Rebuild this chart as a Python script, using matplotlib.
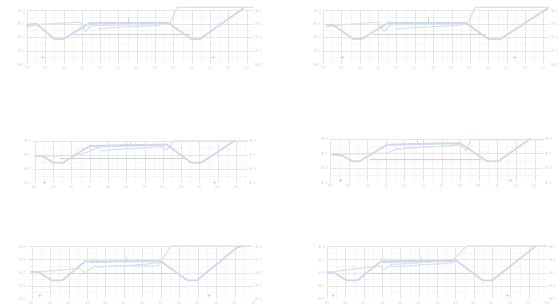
import matplotlib.pyplot as plt
from matplotlib.ticker import MultipleLocator

# ---- data (in y-tick units) ----
X13_LABELS = ["0.0", "0.5", "1.0", "1.5", "2.0", "2.5", "3.0", "3.5", "4.0", "4.5", "5.0", "5.5", "6.0"]
X12_LABELS = X13_LABELS[:12]
Y5_LABELS = ["80.0", "82.5", "85.0", "87.5", "90.0"]
Y4_LABELS = ["82.5", "85.0", "87.5", "90.0"]

P1_LAV_X = [0, 0.5, 1.5, 2.0, 3.45, 7.7, 9.0, 9.45, 11.8]
P1_LAV_Y = [2.9, 3.0, 1.85, 1.85, 3.05, 3.05, 1.85, 1.85, 4.1]
P1_GRN_X = [0, 0.8, 2.9, 3.2, 3.5, 7.8, 8.2, 12.35]
P1_GRN_Y = [2.75, 2.95, 3.1, 2.4, 2.85, 2.95, 4.2, 4.2]
P1_GRAY_X = [2.5, 8.9]
P1_GRAY_Y = [2.2, 2.2]
P1_C1_X = [3.5, 4.5, 5.5, 6.5, 7.3, 7.7]
P1_C1_Y = [2.95, 3.0, 3.05, 3.0, 3.05, 3.0]
P1_C2_X = [3.9, 4.8, 5.6, 6.4, 7.1, 7.6]
P1_C2_Y = [2.6, 2.7, 2.75, 2.8, 2.85, 2.95]
P1_SPIKE = [5.5, 3.05, 3.5]
P1_DOTS_X = [0.82, 10.15]
P1_DOTS_Y = [0.5, 0.5]

P2_LAV_X = [0.2, 0.55, 1.65, 2.1, 3.55, 7.75, 9.0, 9.65, 12.2]
P2_LAV_Y = [2.9, 2.9, 1.85, 1.85, 3.05, 3.05, 1.85, 1.85, 4.1]
P2_GRN_X = [0.2, 1.0, 3.0, 3.3, 3.7, 7.85, 8.3, 12.3]
P2_GRN_Y = [2.75, 2.9, 3.1, 2.4, 2.9, 3.0, 4.2, 4.2]
P2_GRAY_X = [2.7, 8.8]
P2_GRAY_Y = [2.2, 2.2]
P2_C1_X = [3.6, 4.6, 5.6, 6.6, 7.4, 7.8]
P2_C1_Y = [2.95, 3.0, 3.05, 3.0, 3.05, 3.0]
P2_C2_X = [4.0, 4.9, 5.8, 6.6, 7.3, 7.7]
P2_C2_Y = [2.6, 2.7, 2.75, 2.8, 2.85, 2.95]
P2_SPIKE = [5.7, 3.05, 3.5]
P2_DOTS_X = [1.05, 10.4]
P2_DOTS_Y = [0.5, 0.5]

P3_LAV_X = [0.1, 0.45, 1.0, 1.55, 3.0, 7.2, 8.55, 9.1, 10.9]
P3_LAV_Y = [1.95, 1.9, 1.45, 1.45, 2.65, 2.75, 1.45, 1.45, 3.0]
P3_GRN_X = [0.1, 2.5, 3.6, 6.9, 7.2, 7.6, 11.6]
P3_GRN_Y = [1.9, 2.0, 2.6, 2.7, 2.35, 3.0, 3.0]
P3_GRAY_X = [1.4, 8.2]
P3_GRAY_Y = [1.8, 1.8]
P3_C1_X = [3.2, 4.2, 5.2, 6.2, 7.0]
P3_C1_Y = [2.6, 2.65, 2.75, 2.7, 2.75]
P3_C2_X = [3.6, 4.5, 5.4, 6.3, 6.9]
P3_C2_Y = [2.3, 2.4, 2.45, 2.55, 2.6]
P3_SPIKE = [5.2, 2.7, 2.95]
P3_DOTS_X = [0.5, 9.8]
P3_DOTS_Y = [0.1, 0.1]

P4_LAV_X = [0.15, 0.65, 1.2, 1.6, 3.05, 7.0, 8.45, 9.05, 10.75]
P4_LAV_Y = [1.9, 1.85, 1.45, 1.45, 2.6, 2.7, 1.45, 1.45, 3.0]
P4_GRN_X = [0.15, 3.0, 3.6, 6.6, 7.0, 7.3, 7.6, 11.45]
P4_GRN_Y = [1.95, 2.0, 2.3, 2.55, 2.6, 2.2, 2.95, 2.95]
P4_GRAY_X = [2.15, 8.05]
P4_GRAY_Y = [1.6, 1.6]
P4_C1_X = [3.3, 4.3, 5.3, 6.3, 7.0]
P4_C1_Y = [2.6, 2.65, 2.7, 2.7, 2.7]
P4_C2_X = [3.5, 4.4, 5.3, 6.2, 6.9]
P4_C2_Y = [2.3, 2.4, 2.45, 2.5, 2.6]
P4_SPIKE = [4.65, 2.7, 3.0]
P4_DOTS_X = [0.55, 9.65]
P4_DOTS_Y = [0.15, 0.15]

P5_LAV_X = [0, 0.35, 1.1, 1.65, 2.9, 7.0, 8.45, 8.95, 11.1, 11.3]
P5_LAV_Y = [2.05, 2.05, 1.4, 1.4, 2.85, 2.85, 1.4, 1.4, 3.85, 3.95]
P5_GRN_X = [0, 2.6, 2.9, 3.4, 6.85, 7.55, 11.8]
P5_GRN_Y = [2.0, 2.3, 2.0, 2.45, 2.5, 4.0, 4.0]
P5_GRAY_X = [2.15, 7.9]
P5_GRAY_Y = [1.95, 1.95]
P5_C1_X = [3.2, 4.2, 5.1, 6.0, 7.0]
P5_C1_Y = [2.75, 2.8, 2.85, 2.85, 2.85]
P5_C2_X = [3.6, 4.5, 5.4, 6.3, 6.9]
P5_C2_Y = [2.4, 2.5, 2.55, 2.65, 2.75]
P5_SPIKE = [5.1, 2.85, 3.2]
P5_DOTS_X = [0.4, 9.6]
P5_DOTS_Y = [0.3, 0.3]

P6_LAV_X = [0, 0.35, 1.1, 1.65, 2.95, 7.05, 8.5, 9.0, 11.35]
P6_LAV_Y = [2.0, 2.0, 1.4, 1.4, 2.85, 2.9, 1.4, 1.4, 3.95]
P6_GRN_X = [0, 2.85, 3.1, 3.5, 6.85, 7.6, 11.95]
P6_GRN_Y = [2.0, 2.5, 2.2, 2.6, 2.9, 4.0, 4.0]
P6_GRAY_X = [2.3, 7.75]
P6_GRAY_Y = [1.95, 1.95]
P6_C1_X = [3.1, 4.1, 5.1, 6.1, 7.0]
P6_C1_Y = [2.75, 2.8, 2.85, 2.85, 2.9]
P6_C2_X = [3.5, 4.4, 5.3, 6.2, 6.9]
P6_C2_Y = [2.45, 2.5, 2.6, 2.65, 2.75]
P6_SPIKE = [5.15, 2.85, 3.2]
P6_DOTS_X = [0.3, 9.8]
P6_DOTS_Y = [0.3, 0.3]

# ---- layout: pixel boxes (left, top, right, bottom) and x ranges ----
W, H = 560, 305
BOXES = [(27, 10, 253, 64), (323, 10, 549, 64),
         (33, 141, 247, 183), (330, 139, 543, 182),
         (28, 246, 253, 299), (327, 246, 547, 299)]
XLIMS = [(0, 12.35), (0, 12.3), (-0.1, 11.6), (0, 11.45), (-0.2, 12.0), (0, 11.95)]

LAV = "#d3d5f1"
GRN = "#d9eadc"
GRAY = "#d3d3d3"
CLU = "#d4dbec"
TXT = "#d2d2d2"


def draw_panel(ax, xlim, ylabels, xlabels, lav, grn, gray, c1, c2, spike, dots):
    n = len(ylabels) - 1
    ax.set_xlim(*xlim)
    ax.set_ylim(0, n)
    ax.set_xticks(range(len(xlabels)))
    ax.set_xticklabels(xlabels)
    ax.set_yticks(range(n + 1))
    ax.set_yticklabels(ylabels)
    ax.xaxis.set_minor_locator(MultipleLocator(0.5))
    ax.yaxis.set_minor_locator(MultipleLocator(0.5))
    ax.grid(which="major", color="#e2e2e2", lw=0.6)
    ax.grid(which="minor", color="#f0f0f0", lw=0.4)
    ax.set_axisbelow(True)
    for s in ax.spines.values():
        s.set_visible(False)
    ax.tick_params(which="both", length=0, labelsize=2.4, colors=TXT, pad=1.2,
                   labelleft=True, labelright=True)

    ax.plot(*gray, color=GRAY, lw=0.8, clip_on=False)
    ax.plot(*c2, color=CLU, lw=0.7, clip_on=False)
    ax.plot(*c1, color=CLU, lw=0.9, clip_on=False)
    ax.plot(*grn, color=GRN, lw=1.0, clip_on=False)
    ax.plot(*lav, color=LAV, lw=1.3, clip_on=False)
    ax.plot([spike[0], spike[0]], [spike[1], spike[2]], color="#cdd0dd", lw=0.6, clip_on=False)
    ax.scatter(*dots, s=0.5, color="#d0d0d0", zorder=3)


panels = [
    (Y5_LABELS, X13_LABELS, (P1_LAV_X, P1_LAV_Y), (P1_GRN_X, P1_GRN_Y), (P1_GRAY_X, P1_GRAY_Y),
     (P1_C1_X, P1_C1_Y), (P1_C2_X, P1_C2_Y), P1_SPIKE, (P1_DOTS_X, P1_DOTS_Y)),
    (Y5_LABELS, X13_LABELS, (P2_LAV_X, P2_LAV_Y), (P2_GRN_X, P2_GRN_Y), (P2_GRAY_X, P2_GRAY_Y),
     (P2_C1_X, P2_C1_Y), (P2_C2_X, P2_C2_Y), P2_SPIKE, (P2_DOTS_X, P2_DOTS_Y)),
    (Y4_LABELS, X12_LABELS, (P3_LAV_X, P3_LAV_Y), (P3_GRN_X, P3_GRN_Y), (P3_GRAY_X, P3_GRAY_Y),
     (P3_C1_X, P3_C1_Y), (P3_C2_X, P3_C2_Y), P3_SPIKE, (P3_DOTS_X, P3_DOTS_Y)),
    (Y4_LABELS, X12_LABELS, (P4_LAV_X, P4_LAV_Y), (P4_GRN_X, P4_GRN_Y), (P4_GRAY_X, P4_GRAY_Y),
     (P4_C1_X, P4_C1_Y), (P4_C2_X, P4_C2_Y), P4_SPIKE, (P4_DOTS_X, P4_DOTS_Y)),
    (Y5_LABELS, X13_LABELS, (P5_LAV_X, P5_LAV_Y), (P5_GRN_X, P5_GRN_Y), (P5_GRAY_X, P5_GRAY_Y),
     (P5_C1_X, P5_C1_Y), (P5_C2_X, P5_C2_Y), P5_SPIKE, (P5_DOTS_X, P5_DOTS_Y)),
    (Y5_LABELS, X13_LABELS, (P6_LAV_X, P6_LAV_Y), (P6_GRN_X, P6_GRN_Y), (P6_GRAY_X, P6_GRAY_Y),
     (P6_C1_X, P6_C1_Y), (P6_C2_X, P6_C2_Y), P6_SPIKE, (P6_DOTS_X, P6_DOTS_Y)),
]

fig = plt.figure(figsize=(W / 100, H / 100), dpi=100)
for (l, t, r, b), xlim, p in zip(BOXES, XLIMS, panels):
    ax = fig.add_axes([l / W, 1 - b / H, (r - l) / W, (b - t) / H])
    draw_panel(ax, xlim, *p)

plt.savefig("out.png", dpi=100)
